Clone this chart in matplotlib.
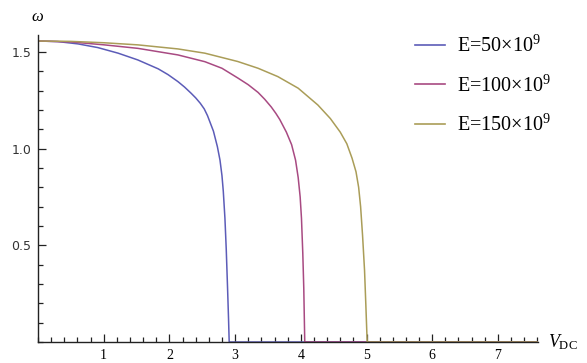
import matplotlib
matplotlib.use("Agg")
import matplotlib.pyplot as plt
from matplotlib.ticker import MultipleLocator, FixedLocator

plt.rcParams['mathtext.fontset'] = 'custom'
plt.rcParams['mathtext.rm'] = 'Liberation Serif'
plt.rcParams['mathtext.it'] = 'Liberation Serif:italic'

# ---- data ----
labels = [r"E=50$\times$10$^{9}$", r"E=100$\times$10$^{9}$", r"E=150$\times$10$^{9}$"]
colors = ["#5c5cb8", "#a84a82", "#aa9d58"]

v_50 = [0, 0.30, 0.61, 0.91, 1.22, 1.52, 1.83, 1.98, 2.13, 2.23, 2.33, 2.40, 2.47, 2.53, 2.58,
        2.67, 2.73, 2.77, 2.80, 2.82, 2.845, 2.865, 2.885, 2.90, 2.91, 7.6]
w_50 = [1.556, 1.553, 1.541, 1.522, 1.493, 1.458, 1.412, 1.382, 1.346, 1.318, 1.286, 1.262, 1.234, 1.205, 1.17,
        1.09, 1.01, 0.94, 0.86, 0.78, 0.64, 0.48, 0.28, 0.12, 0.0, 0.0]

v_100 = [0, 0.5, 1.01, 1.52, 2.13, 2.54, 2.80, 3.04, 3.20, 3.35, 3.45, 3.55, 3.62, 3.68, 3.78, 3.86,
         3.92, 3.96, 3.99, 4.01, 4.03, 4.045, 4.06, 7.6]
w_100 = [1.556, 1.551, 1.536, 1.518, 1.484, 1.449, 1.415, 1.365, 1.33, 1.29, 1.255, 1.215, 1.182, 1.15, 1.085, 1.02,
         0.94, 0.85, 0.75, 0.64, 0.46, 0.28, 0.0, 0.0]

v_150 = [0, 0.5, 1.0, 1.52, 2.13, 2.54, 3.04, 3.35, 3.65, 3.96, 4.26, 4.45, 4.60, 4.70,
         4.78, 4.84, 4.88, 4.91, 4.94, 4.97, 4.99, 5.01, 7.6]
w_150 = [1.556, 1.554, 1.547, 1.536, 1.515, 1.493, 1.45, 1.415, 1.372, 1.312, 1.225, 1.155, 1.085, 1.025,
         0.95, 0.88, 0.80, 0.70, 0.55, 0.37, 0.19, 0.0, 0.0]

x_ticks = [1, 2, 3, 4, 5, 6, 7]
y_ticks = [0.5, 1.0, 1.5]
y_tick_labels = ["0.5", "1.0", "1.5"]

# ---- figure ----
fig = plt.figure(figsize=(5.87, 3.63), dpi=100)
ax = fig.add_axes([38/587, 1-342/363, 500/587, 307/363])

for v, w, c, lab in zip([v_50, v_100, v_150], [w_50, w_100, w_150], colors, labels):
    ax.plot(v, w, color=c, lw=1.1, label=lab, zorder=2, solid_joinstyle='round')

ax.set_xlim(0, 7.61)
ax.set_ylim(0, 1.587)

for s in ['top', 'right']:
    ax.spines[s].set_visible(False)
for s in ['left', 'bottom']:
    ax.spines[s].set_linewidth(1.0)
    ax.spines[s].set_color('#222222')
    ax.spines[s].set_zorder(3)

ax.xaxis.set_major_locator(FixedLocator(x_ticks))
ax.xaxis.set_minor_locator(MultipleLocator(0.2))
ax.yaxis.set_major_locator(FixedLocator(y_ticks))
ax.set_yticklabels(y_tick_labels)
ax.yaxis.set_minor_locator(MultipleLocator(0.1))
ax.tick_params(which='both', direction='in', color='#222222', width=0.9)
ax.tick_params(which='major', length=6)
ax.tick_params(which='minor', length=3.5)
ax.tick_params(axis='x', which='major', labelsize=10, pad=5)
ax.tick_params(axis='y', which='major', labelsize=9, pad=5)
for t in ax.get_xticklabels():
    t.set_family('Liberation Serif')
for t in ax.get_yticklabels():
    t.set_family('DejaVu Sans')
    t.set_color('#333333')

fig.text(38/587, 1-17/363, r"$\omega$", fontsize=12, ha='center', va='center',
         family='Liberation Serif')
fig.text(548/587, 1-342/363, r"$V_{\mathrm{DC}}$", fontsize=13, ha='left', va='center')

leg = ax.legend(loc='upper left', bbox_to_anchor=(415/587, 1-36/363),
                bbox_transform=fig.transFigure, frameon=False,
                prop={'family': 'Liberation Serif', 'size': 14.5},
                handlelength=1.5, handletextpad=0.6, labelspacing=0.9,
                borderpad=0, borderaxespad=0)
for line in leg.get_lines():
    line.set_linewidth(1.2)

fig.savefig("out.png", dpi=100)
